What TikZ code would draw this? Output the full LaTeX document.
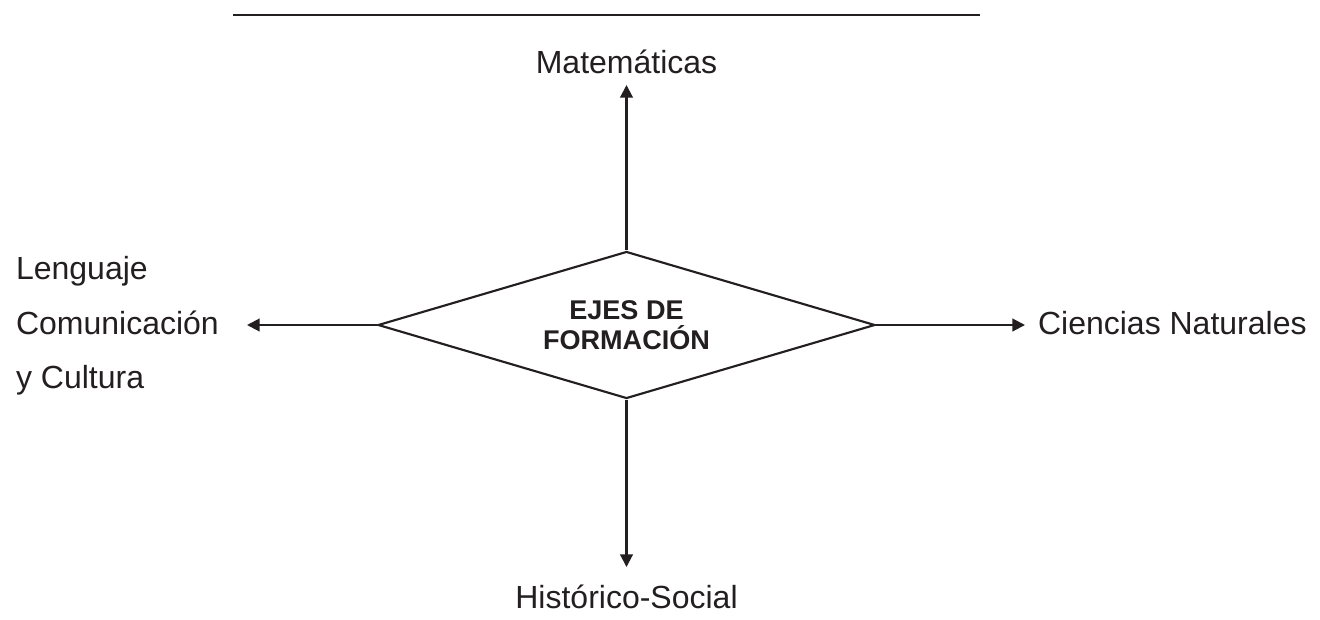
\documentclass[tikz,border=0pt]{standalone}
\usepackage{fontspec}
\setmainfont{Liberation Sans}
\usetikzlibrary{arrows.meta,shapes.geometric}
\definecolor{ink}{HTML}{231F20}
\tikzset{
  >={Triangle[length=9.5pt,width=9.5pt]},
  every picture/.style={line width=1.6pt,draw=ink},
  arr/.style={->,draw=ink},
  lab/.style={inner sep=0pt,text=ink,font=\fontsize{24}{41}\selectfont},
  core/.style={diamond,draw=ink,aspect=3.38,inner sep=0pt,align=center,
    minimum width=372.75pt,minimum height=110.25pt,text=ink,
    font=\fontsize{20.3}{22.5}\selectfont\bfseries},
}
\begin{document}
\begin{tikzpicture}[x=0.75pt,y=-0.75pt]
  \useasboundingbox (0,0) rectangle (1320,619);
  % rule on top
  \coordinate (rl) at (233,15);
  \coordinate (rr) at (980,15);
  \draw (rl) -- (rr);
  % centre
  \node[core] (ejes) at (626.5,325) {EJES DE\\FORMACIÓN};
  % arrow ends
  \coordinate (up) at (626.5,85);
  \coordinate (dn) at (626.5,567);
  \coordinate (lt) at (247,325);
  \coordinate (rt) at (1025,325);
  % labels
  \node[lab] (mat) at (626.5,62) {Matemáticas};
  \node[lab] (his) at (626.5,597) {Histórico-Social};
  \node[lab,anchor=west] (cie) at (1037,323) {Ciencias Naturales};
  \node[lab,anchor=west,align=left] (len) at (15,326) {Lenguaje\\Comunicación\\y Cultura};
  % arrows
  \draw[arr] (ejes.north) -- (up);
  \draw[arr] (ejes.south) -- (dn);
  \draw[arr] (ejes.west) -- (lt);
  \draw[arr] (ejes.east) -- (rt);
\end{tikzpicture}
\end{document}
